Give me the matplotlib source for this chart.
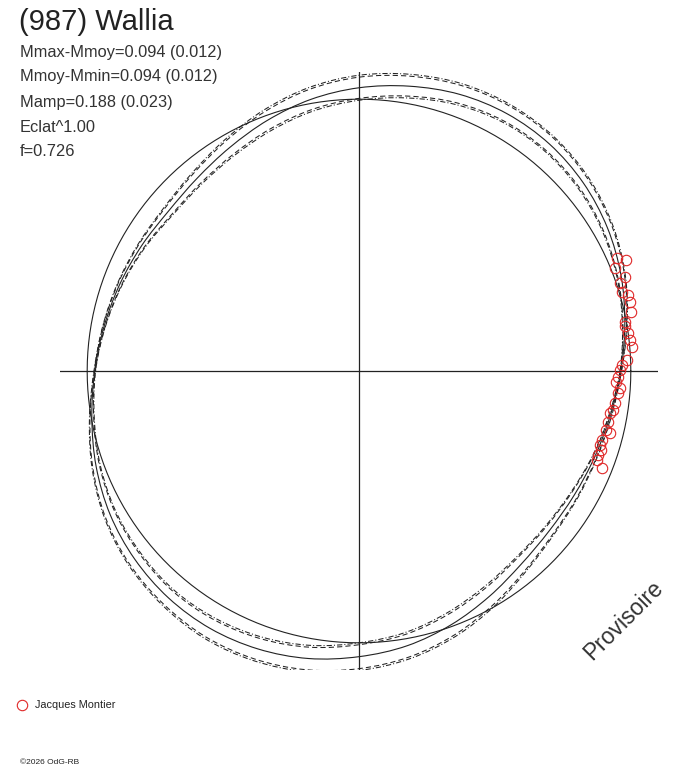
import numpy as np
import matplotlib.pyplot as plt
from matplotlib.path import Path
from matplotlib.patches import PathPatch

plt.rcParams['font.family'] = ['Liberation Sans', 'DejaVu Sans']

# polar light curve: angle (deg) -> magnitude offset from mean (radius = 1 + dm)
phase_deg = [0, 10, 20, 30, 40, 50, 60, 70, 80, 90, 100, 110,
             120, 130, 140, 150, 160, 170, 180, 190, 200, 210, 220, 230,
             240, 250, 260, 270, 280, 290, 300, 310, 320, 330, 340, 350]
model_dm = [-0.037, -0.007, 0.026, 0.055, 0.077, 0.090, 0.092, 0.083, 0.064, 0.042, 0.015, -0.018,
            -0.050, -0.074, -0.085, -0.077, -0.064, -0.048, -0.028, -0.002, 0.029, 0.057, 0.077, 0.090,
            0.094, 0.088, 0.074, 0.051, 0.026, -0.007, -0.042, -0.072, -0.086, -0.086, -0.077, -0.061]
dash_w = [0.002, 0.007, 0.013, 0.018, 0.022, 0.026, 0.029, 0.033, 0.037, 0.039, 0.037, 0.033,
          0.028, 0.022, 0.017, 0.011, 0.007, 0.004, 0.002, 0.007, 0.013, 0.020, 0.026, 0.029,
          0.035, 0.039, 0.042, 0.044, 0.042, 0.039, 0.033, 0.026, 0.018, 0.013, 0.007, 0.004]
dashdot_w = [0.003, 0.009, 0.016, 0.022, 0.027, 0.031, 0.035, 0.040, 0.044, 0.046, 0.044, 0.040,
             0.034, 0.027, 0.021, 0.014, 0.009, 0.005, 0.003, 0.009, 0.016, 0.024, 0.031, 0.035,
             0.042, 0.046, 0.049, 0.051, 0.049, 0.046, 0.040, 0.031, 0.022, 0.016, 0.009, 0.005]

# observations (Jacques Montier)
obs_deg = [22.5, 23.6, 21.9, 19.5, 18.6, 16.8, 15.8, 14.3, 12.3, 10.5, 9.5, 8.0,
           6.5, 5.1, 2.4, 1.3, 0.2, -1.3, -2.4, -3.8, -4.9, -7.2, -8.7, -9.6,
           -11.5, -13.4, -13.9, -15.9, -17.1, -18.0, -19.3, -20.5, -21.8]
obs_dm = [0.065, 0.034, 0.014, 0.037, 0.012, 0.009, 0.029, 0.028, 0.026, -0.006, -0.008, 0.000,
          0.003, 0.007, -0.015, -0.034, -0.040, -0.046, -0.052, -0.038, -0.043, -0.051, -0.054, -0.064,
          -0.065, -0.064, -0.049, -0.072, -0.073, -0.062, -0.068, -0.067, -0.039]

info_lines = ['Mmax-Mmoy=0.094 (0.012)', 'Mmoy-Mmin=0.094 (0.012)',
              'Mamp=0.188 (0.023)', 'Eclat^1.00', 'f=0.726']

ink = '#222222'
red = '#e02828'

W, H = 688, 768
fig = plt.figure(figsize=(W / 100, H / 100), dpi=100)
ax = fig.add_axes([60 / W, 98 / H, 598 / W, 598 / H])
ax.set_xlim(-1.1, 1.1)
ax.set_ylim(-1.1, 1.1)
ax.axis('off')


def smooth_loop(deg, r, **kw):
    # closed curve through the polar points, drawn as cubic Bezier segments
    a = np.radians(deg)
    p = np.column_stack([r * np.cos(a), r * np.sin(a)])
    n = len(p)
    verts = [p[0]]
    codes = [Path.MOVETO]
    for i in range(n):
        p0, p1, p2, p3 = p[i - 1], p[i], p[(i + 1) % n], p[(i + 2) % n]
        verts += [p1 + (p2 - p0) / 6, p2 - (p3 - p1) / 6, p2]
        codes += [Path.CURVE4] * 3
    ax.add_patch(PathPatch(Path(verts, codes), fill=False, **kw))


ax.plot([-1.1, 1.1], [0, 0], color=ink, lw=0.9)
ax.plot([0, 0], [-1.1, 1.1], color=ink, lw=0.9)

# reference circle (mean magnitude)
t = np.linspace(0, 2 * np.pi, 361)
ax.plot(np.cos(t), np.sin(t), color=ink, lw=0.8)

m = np.array(model_dm)
dw = np.array(dash_w)
ddw = np.array(dashdot_w)
smooth_loop(phase_deg, 1 + m, edgecolor=ink, lw=0.8)
for s in (1, -1):
    smooth_loop(phase_deg, 1 + m + s * dw, edgecolor=ink, lw=0.75,
                linestyle=(0, (5, 3)))
    smooth_loop(phase_deg, 1 + m + s * ddw, edgecolor=ink, lw=0.75,
                linestyle=(0, (5, 2, 1, 2)))

oa = np.radians(obs_deg)
orad = 1 + np.array(obs_dm)
ax.plot(orad * np.cos(oa), orad * np.sin(oa), 'o', ms=7.5, mfc='none',
        mec=red, mew=0.8, zorder=5)

fig.text(19 / W, 1 - 22 / H, '(987) Wallia', fontsize=21, color=ink, va='center')
for i, line in enumerate(info_lines):
    fig.text(20 / W, 1 - (52 + 25 * i) / H, line, fontsize=11.8, color='#333333', va='center')

fig.text(624 / W, 1 - 620 / H, 'Provisoire', fontsize=16.5, color='#333333',
         rotation=45, ha='center', va='center')

fig.lines.append(plt.Line2D([22 / W], [1 - 705 / H], marker='o', ms=7.5, mfc='none',
                            mec=red, mew=0.8, transform=fig.transFigure))
fig.text(35 / W, 1 - 705 / H, 'Jacques Montier', fontsize=7.8,
         color=ink, va='center')
fig.text(20 / W, 1 - 762 / H, '©2026 OdG-RB', fontsize=6, color=ink, va='center')

fig.savefig('out.png', dpi=100, facecolor='white')
